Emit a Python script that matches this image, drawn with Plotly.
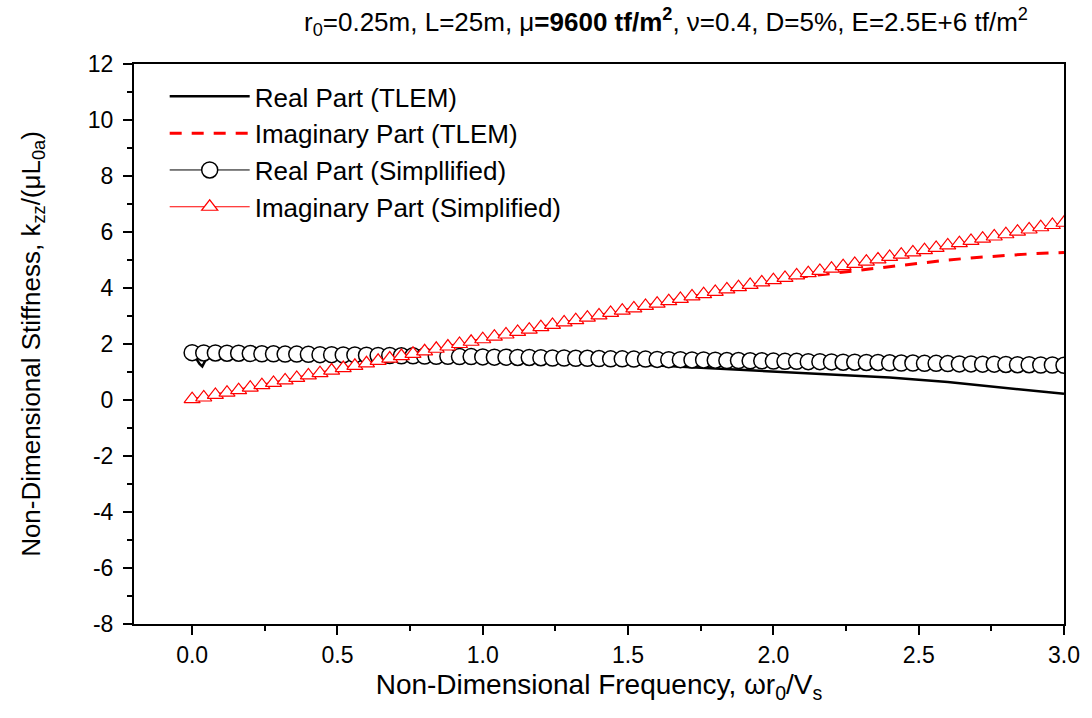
import plotly.graph_objects as go

# ---- data ----
freq = [0.00, 0.04, 0.08, 0.12, 0.16, 0.20, 0.24, 0.28, 0.32, 0.36,
        0.40, 0.44, 0.48, 0.52, 0.56, 0.60, 0.64, 0.68, 0.72, 0.76,
        0.80, 0.84, 0.88, 0.92, 0.96, 1.00, 1.04, 1.08, 1.12, 1.16,
        1.20, 1.24, 1.28, 1.32, 1.36, 1.40, 1.44, 1.48, 1.52, 1.56,
        1.60, 1.64, 1.68, 1.72, 1.76, 1.80, 1.84, 1.88, 1.92, 1.96,
        2.00, 2.04, 2.08, 2.12, 2.16, 2.20, 2.24, 2.28, 2.32, 2.36,
        2.40, 2.44, 2.48, 2.52, 2.56, 2.60, 2.64, 2.68, 2.72, 2.76,
        2.80, 2.84, 2.88, 2.92, 2.96, 3.00]

real_simplified = [1.69, 1.68, 1.68, 1.67, 1.67, 1.66, 1.65, 1.65, 1.64, 1.64,
                   1.63, 1.62, 1.62, 1.61, 1.61, 1.60, 1.59, 1.59, 1.58, 1.58,
                   1.57, 1.56, 1.56, 1.55, 1.55, 1.54, 1.53, 1.53, 1.52, 1.52,
                   1.51, 1.50, 1.50, 1.49, 1.49, 1.48, 1.47, 1.47, 1.46, 1.46,
                   1.45, 1.44, 1.44, 1.43, 1.43, 1.42, 1.41, 1.41, 1.40, 1.40,
                   1.39, 1.38, 1.38, 1.37, 1.37, 1.36, 1.35, 1.35, 1.34, 1.34,
                   1.33, 1.32, 1.32, 1.31, 1.31, 1.30, 1.29, 1.29, 1.28, 1.28,
                   1.27, 1.26, 1.26, 1.25, 1.25, 1.24]

imag_simplified = [0.03, 0.09, 0.18, 0.26, 0.35, 0.44, 0.53, 0.61, 0.70, 0.79,
                   0.88, 0.96, 1.05, 1.14, 1.22, 1.31, 1.40, 1.48, 1.57, 1.65,
                   1.74, 1.83, 1.91, 2.00, 2.08, 2.17, 2.26, 2.34, 2.43, 2.51,
                   2.60, 2.68, 2.77, 2.85, 2.94, 3.02, 3.11, 3.19, 3.27, 3.36,
                   3.44, 3.53, 3.61, 3.70, 3.78, 3.86, 3.95, 4.03, 4.11, 4.20,
                   4.28, 4.36, 4.45, 4.53, 4.61, 4.69, 4.78, 4.86, 4.94, 5.02,
                   5.11, 5.19, 5.27, 5.35, 5.43, 5.52, 5.60, 5.68, 5.76, 5.84,
                   5.92, 6.01, 6.09, 6.17, 6.25, 6.33]

tlem_freq = [0.01, 0.025, 0.035, 0.05, 0.08, 0.2, 0.4, 0.6, 0.8, 1.0,
             1.2, 1.4, 1.6, 1.8, 2.0, 2.2, 2.4, 2.6, 2.8, 3.0]
tlem_real = [1.55, 1.30, 1.20, 1.50, 1.64, 1.66, 1.64, 1.60, 1.55, 1.49,
             1.42, 1.33, 1.23, 1.12, 1.02, 0.92, 0.80, 0.64, 0.44, 0.22]

tlem_imag_freq = [0.00, 0.2, 0.4, 0.6, 0.8, 1.0, 1.2, 1.4, 1.6, 1.8,
                  2.0, 2.1, 2.2, 2.3, 2.4, 2.5, 2.6, 2.7, 2.8, 2.9, 3.0]
tlem_imag = [0.00, 0.44, 0.88, 1.31, 1.74, 2.17, 2.60, 3.02, 3.44, 3.86,
             4.25, 4.40, 4.52, 4.64, 4.77, 4.90, 5.00, 5.09, 5.17, 5.23, 5.27]

x_ticks = [0.0, 0.5, 1.0, 1.5, 2.0, 2.5, 3.0]
x_tick_labels = ["0.0", "0.5", "1.0", "1.5", "2.0", "2.5", "3.0"]
y_ticks = [-8, -6, -4, -2, 0, 2, 4, 6, 8, 10, 12]
y_tick_labels = ["-8", "-6", "-4", "-2", "0", "2", "4", "6", "8", "10", "12"]

FONT = "Arial, Liberation Sans, sans-serif"

fig = go.Figure()
fig.add_trace(go.Scatter(x=tlem_freq, y=tlem_real, mode="lines",
                         name="Real Part (TLEM)",
                         line=dict(color="black", width=2.5)))
fig.add_trace(go.Scatter(x=tlem_imag_freq, y=tlem_imag, mode="lines",
                         name="Imaginary Part (TLEM)",
                         line=dict(color="red", width=3, dash="12px,10px")))
fig.add_trace(go.Scatter(x=freq, y=real_simplified, mode="lines+markers",
                         name="Real Part (Simpllified)",
                         line=dict(color="black", width=1),
                         marker=dict(symbol="circle", size=16, color="white",
                                     line=dict(color="black", width=1.5))))
fig.add_trace(go.Scatter(x=freq, y=imag_simplified, mode="lines+markers",
                         name="Imaginary Part (Simplified)",
                         line=dict(color="red", width=1.2),
                         marker=dict(symbol="triangle-up", size=14, color="white",
                                     line=dict(color="red", width=1.2))))

fig.update_layout(
    width=1092, height=718,
    margin=dict(l=134, r=28, t=64, b=94),
    paper_bgcolor="white", plot_bgcolor="white",
    font=dict(family=FONT, color="black", size=22),
    showlegend=True,
    legend=dict(x=0.033, y=0.984, xanchor="left", yanchor="top",
                bgcolor="rgba(0,0,0,0)", borderwidth=0,
                font=dict(size=26, family=FONT), itemwidth=80,
                tracegroupgap=0),
    xaxis=dict(range=[-0.2, 3.0], tickvals=x_ticks, ticktext=x_tick_labels,
               showline=True, linecolor="black", linewidth=2, mirror=True,
               ticks="outside", ticklen=9, tickwidth=2, tickcolor="black",
               minor=dict(dtick=0.25, tick0=0, ticks="outside", ticklen=5,
                          tickwidth=2, tickcolor="black", showgrid=False),
               showgrid=False, zeroline=False,
               tickfont=dict(size=23, family=FONT),
               title=dict(text="Non-Dimensional Frequency, ωr<sub>0</sub>/V<sub>s</sub>",
                          font=dict(size=28, family=FONT), standoff=8)),
    yaxis=dict(range=[-8, 12], tickvals=y_ticks, ticktext=y_tick_labels,
               showline=True, linecolor="black", linewidth=2, mirror=True,
               ticks="outside", ticklen=9, tickwidth=2, tickcolor="black",
               ticklabelstandoff=5,
               minor=dict(dtick=1, tick0=0, ticks="outside", ticklen=5,
                          tickwidth=2, tickcolor="black", showgrid=False),
               showgrid=False, zeroline=False,
               tickfont=dict(size=23, family=FONT),
               title=dict(text="Non-Dimensional Stiffness, k<sub>zz</sub>/(μL<sub>0a</sub>)",
                          font=dict(size=26, family=FONT), standoff=40)),
)

fig.add_annotation(
    text="r<sub>0</sub>=0.25m, L=25m, μ<b>=9600 tf/m<sup>2</sup></b>, ν=0.4, D=5%, E=2.5E+6 tf/m<sup>2</sup>",
    xref="paper", yref="paper", x=0.572, y=1.075, xanchor="center", yanchor="middle",
    showarrow=False, font=dict(size=26, family=FONT, color="black"))

fig.write_html("out.html")
